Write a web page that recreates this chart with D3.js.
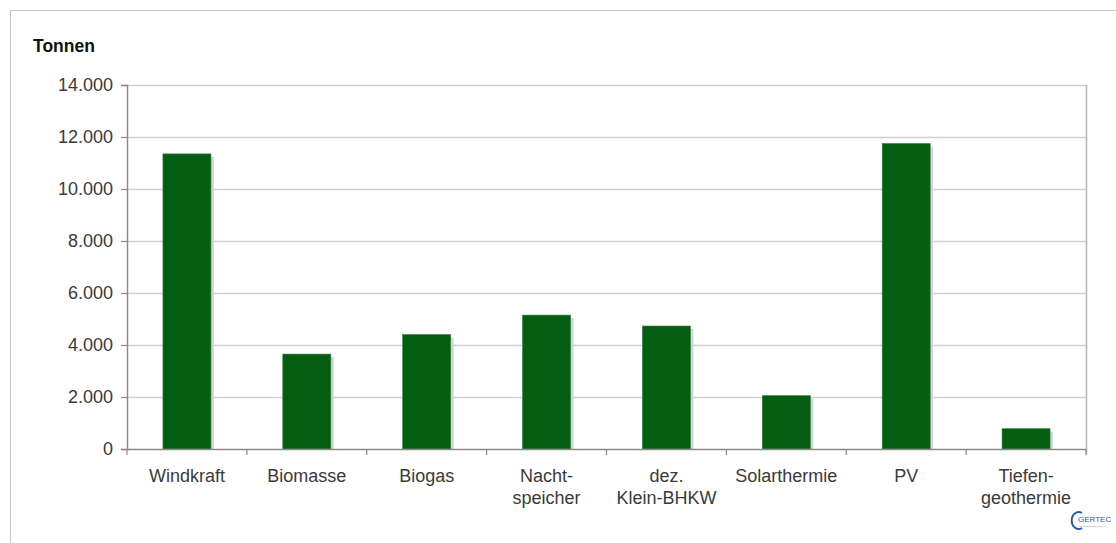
<!DOCTYPE html>
<html>
<head>
<meta charset="utf-8">
<script src="https://cdn.jsdelivr.net/npm/d3@7"></script>
<style>
	body { margin: 0; background: #fff; }
	svg { display: block; font-family: "Liberation Sans", Arial, sans-serif; }
</style>
</head>
<body>
<svg id="chart" width="1116" height="543"></svg>
<script>
var categories = [
	["Windkraft"], ["Biomasse"], ["Biogas"], ["Nacht-", "speicher"],
	["dez.", "Klein-BHKW"], ["Solarthermie"], ["PV"], ["Tiefen-", "geothermie"]
];
var tonnen = [11350, 3650, 4400, 5150, 4730, 2050, 11750, 780];
var yTicks = [0, 2000, 4000, 6000, 8000, 10000, 12000, 14000];

var svg = d3.select("#chart");
var margin = { left: 127, right: 1086, top: 85, bottom: 449 };

// outer frame (only top and left visible)
svg.append("path")
	.attr("d", "M1116,10.5H10.5V543")
	.attr("fill", "none")
	.attr("stroke", "#c8c8c8");

var x = d3.scaleBand()
	.domain(d3.range(categories.length))
	.range([margin.left, margin.right]);

var y = d3.scaleLinear()
	.domain([0, 14000])
	.range([margin.bottom, margin.top]);

// gridlines
svg.append("g")
	.selectAll("line")
	.data(yTicks.slice(1))
	.enter()
	.append("line")
	.attr("x1", margin.left)
	.attr("x2", margin.right)
	.attr("y1", function(d) { return Math.round(y(d)) + 0.5; })
	.attr("y2", function(d) { return Math.round(y(d)) + 0.5; })
	.attr("stroke", "#cfcfcf")
	.attr("stroke-width", 1.5);

// right border of plot
svg.append("line")
	.attr("x1", margin.right + 0.5).attr("x2", margin.right + 0.5)
	.attr("y1", margin.top).attr("y2", margin.bottom + 5)
	.attr("stroke", "#b5b5b5").attr("stroke-width", 1.5);

var barW = 48;

// bar shadows
svg.append("g")
	.selectAll("rect")
	.data(tonnen)
	.enter()
	.append("rect")
	.attr("x", function(d, i) { return x(i) + x.bandwidth() / 2 - barW / 2 + 3; })
	.attr("y", function(d) { return y(d) + 3; })
	.attr("width", barW)
	.attr("height", function(d) { return y(0) - y(d) - 3; })
	.attr("fill", "#d4d4d4");

// bars
svg.append("g")
	.selectAll("rect")
	.data(tonnen)
	.enter()
	.append("rect")
	.attr("x", function(d, i) { return x(i) + x.bandwidth() / 2 - barW / 2; })
	.attr("y", function(d) { return y(d); })
	.attr("width", barW)
	.attr("height", function(d) { return y(0) - y(d); })
	.attr("fill", "#035e12")
	.attr("stroke", "#2f7a3a")
	.attr("stroke-width", 0.6);

// y axis
var yAxis = svg.append("g")
	.attr("transform", "translate(" + margin.left + ",0)")
	.call(d3.axisLeft(y)
		.tickValues(yTicks)
		.tickSize(6)
		.tickPadding(8)
		.tickFormat(function(d) { return d3.format(",")(d).replace(/,/g, "."); }));
yAxis.select(".domain").attr("stroke", "#8a8a8a").attr("stroke-width", 1.5);
yAxis.selectAll(".tick line").attr("stroke", "#8a8a8a").attr("stroke-width", 1.2);
yAxis.selectAll(".tick text")
	.attr("font-size", 18)
	.attr("fill", "#3a3a3a");

// x axis line and boundary ticks
svg.append("line")
	.attr("x1", margin.left).attr("x2", margin.right)
	.attr("y1", margin.bottom + 0.5).attr("y2", margin.bottom + 0.5)
	.attr("stroke", "#8a8a8a").attr("stroke-width", 1.5);

svg.append("g")
	.selectAll("line")
	.data(d3.range(categories.length + 1))
	.enter()
	.append("line")
	.attr("x1", function(i) { return i < categories.length ? x(i) : margin.right; })
	.attr("x2", function(i) { return i < categories.length ? x(i) : margin.right; })
	.attr("y1", margin.bottom)
	.attr("y2", margin.bottom + 6)
	.attr("stroke", "#8a8a8a")
	.attr("stroke-width", 1.2);

// category labels
var labels = svg.append("g")
	.selectAll("text")
	.data(categories)
	.enter()
	.append("text")
	.attr("x", function(d, i) { return x(i) + x.bandwidth() / 2; })
	.attr("y", 482)
	.attr("text-anchor", "middle")
	.attr("font-size", 18)
	.attr("fill", "#3a3a3a");
labels.selectAll("tspan")
	.data(function(d) { return d; })
	.enter()
	.append("tspan")
	.attr("x", function() { return d3.select(this.parentNode).attr("x"); })
	.attr("dy", function(d, i) { return i == 0 ? 0 : 22; })
	.text(function(d) { return d; });

// unit title
svg.append("text")
	.attr("x", 33)
	.attr("y", 52)
	.attr("font-size", 17.5)
	.attr("font-weight", "bold")
	.attr("fill", "#111")
	.text("Tonnen");

// logo
var logo = svg.append("g").attr("transform", "translate(1076,520)");
logo.append("path")
	.attr("d", "M6,-7 A7,8.5 0 1,0 6,8")
	.attr("fill", "none")
	.attr("stroke", "#2a5aa8")
	.attr("stroke-width", 2);
logo.append("text")
	.attr("x", 2).attr("y", 2)
	.attr("font-size", 8)
	.attr("fill", "#2a5aa8")
	.text("GERTEC");
logo.append("text")
	.attr("x", 3).attr("y", 6.5)
	.attr("font-size", 2)
	.attr("fill", "#7a8fb8")
	.text("INGENIEURGESELLSCHAFT");
</script>
</body>
</html>
